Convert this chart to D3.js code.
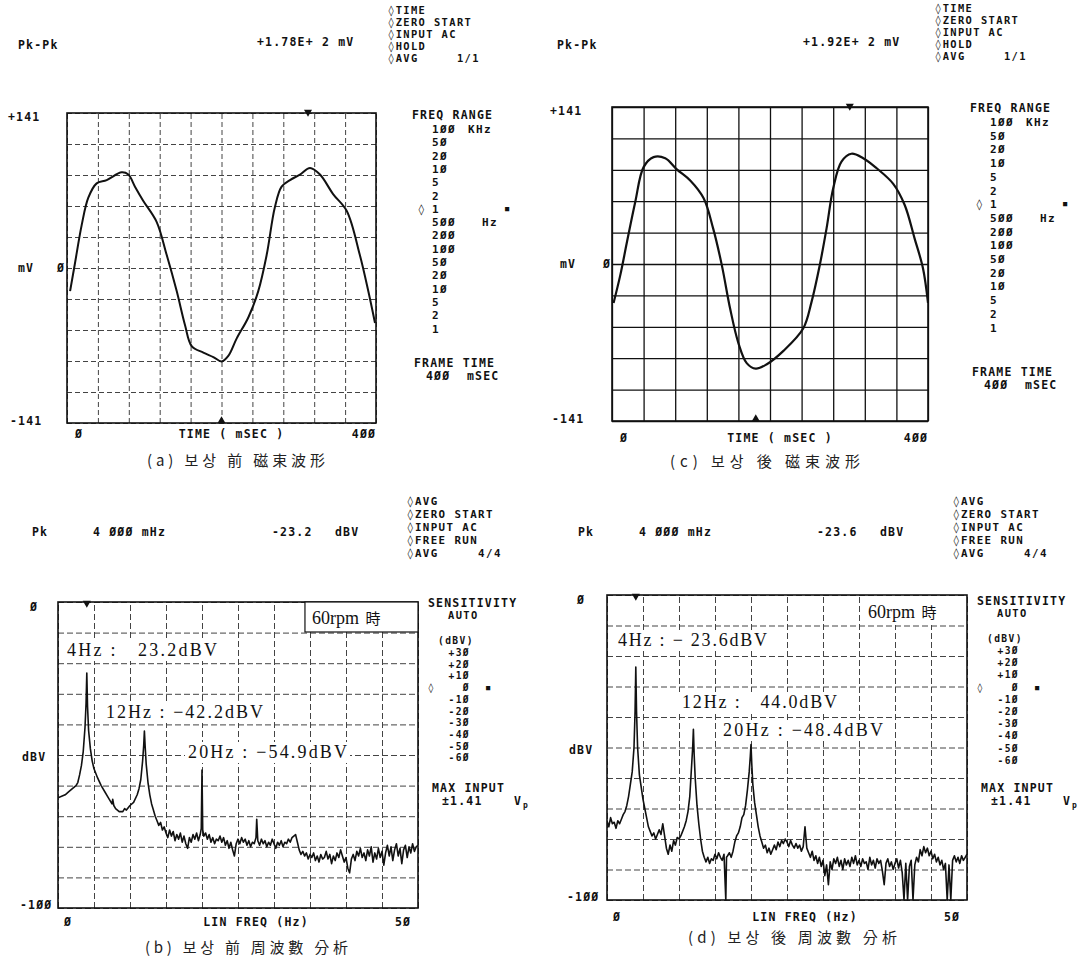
<!DOCTYPE html>
<html>
<head>
<meta charset="utf-8">
<script src="https://cdn.jsdelivr.net/npm/d3@7"></script>
<style>
body { margin: 0; background: #fff; }
svg text { white-space: pre; }
.inst { font-family: "DejaVu Sans Mono", monospace; font-weight: bold; font-size: 11.5px; letter-spacing: 1.2px; fill: #111; }
.lst { font-family: "DejaVu Sans Mono", monospace; font-weight: bold; font-size: 9.6px; letter-spacing: 1.4px; fill: #111; }
.cap { font-family: "Noto Sans CJK KR", sans-serif; font-size: 15px; fill: #222; }
.ann { font-family: "Liberation Serif", serif; font-size: 18px; fill: #111; }
.cjk { font-family: "Noto Sans CJK JP", sans-serif; font-size: 15px; }
</style>
</head>
<body>
<svg width="1082" height="963"></svg>
<script>
// flux waveform before compensation (ms, mV)
const waveA = [[4,-21],[10,3],[19,39],[27.6,64],[38.4,77],[51.4,80],[70.8,87],[79.4,85],[88,74],[98.8,61],[116,42],
  [129,12],[142,-21],[152.8,-52],[161.4,-71],[176.5,-77],[189.4,-81],[200.2,-85],[208.8,-80],[219.7,-64],[234.7,-45],
  [247.6,-21],[258.5,12],[269,55],[277.8,74],[288.7,80],[301.6,85],[314.6,91],[327.5,85],[344.7,67],[362,52],[379,12],
  [390,-21],[398.7,-50]];
// flux waveform after compensation (ms, mV)
const waveC = [[2,-35],[10.5,-10],[19,20],[29.5,56],[40,87],[52.6,96],[67.4,95],[82,85],[99,75],[116,59],[128,32],
  [139,-1],[149.5,-40],[160,-71],[170.5,-89],[182,-94],[196,-90],[217,-78],[242,-58],[252.6,-34],[263,-1],[271.6,32],
  [280,68],[290.5,92],[303,99],[318,95],[335,86],[356,72],[370.5,53],[383,23],[393.7,-4],[400,-35]];

// spectrum before compensation (Hz, dBV)
const specB = [[0,-64],[0.5,-63.5],[1,-63],[1.5,-62],[2,-61],[2.5,-60],[2.75,-59],[3,-56.5],[3.25,-53.5],[3.5,-49],
  [3.75,-41],[3.9,-33],[4,-23.2],[4.1,-34],[4.25,-42],[4.5,-48],[4.75,-52],[5,-54.5],[5.5,-57.5],[6,-60],[6.5,-62],
  [7,-64],[7.25,-65],[7.5,-66],[7.6,-64.5],[7.75,-66.5],[8,-67.5],[8.5,-68.5],[9,-68.5],[9.25,-67.5],[9.5,-68],
  [10,-66.5],[10.5,-65.5],[11,-63],[11.25,-61],[11.5,-58],[11.75,-52],[11.9,-47],[12,-42.2],[12.1,-47],[12.25,-53],
  [12.5,-59],[12.75,-63],[13,-66],[13.25,-68],[13.5,-70],[13.75,-71.5],[14,-73],[14.25,-72],[14.5,-74.5],[14.75,-73.5],
  [15,-75.5],[15.25,-77],[15.5,-74.5],[15.75,-76.5],[16,-75],[16.25,-78],[16.5,-76],[16.75,-77.5],[17,-75.5],
  [17.25,-78.5],[17.5,-76.5],[17.75,-79],[18,-80.5],[18.25,-77],[18.5,-78.5],[18.75,-76],[19,-77.5],[19.25,-75.5],
  [19.5,-78],[19.75,-76],[19.9,-74],[20,-54.9],[20.1,-74.5],[20.25,-76.5],[20.5,-75.5],[20.75,-77.5],[21,-76],
  [21.25,-78.5],[21.5,-77],[21.75,-79],[22,-77.5],[22.25,-78],[22.5,-76.5],[22.75,-78.5],[23,-77],[23.25,-79.5],
  [23.5,-78],[23.75,-80.5],[24,-78.5],[24.25,-81],[24.5,-83],[24.75,-79],[25,-77.5],[25.25,-79],[25.5,-77],
  [25.75,-78.5],[26,-77.5],[26.25,-79.5],[26.5,-78],[26.75,-80],[27,-78.5],[27.25,-79],[27.5,-77],[27.6,-71],
  [27.75,-78],[28,-79.5],[28.25,-77.5],[28.5,-79],[28.75,-78],[29,-80],[29.25,-78.5],[29.5,-79.5],[29.75,-77.5],
  [30,-79],[30.25,-80.5],[30.5,-78.5],[30.75,-79.5],[31,-78],[31.25,-80],[31.5,-78.5],[31.75,-79],[32,-77.5],
  [32.25,-78.5],[32.5,-77],[32.75,-76.5],[33,-76],[33.25,-78.5],[33.5,-81],[33.75,-82.5],[34,-81.5],[34.25,-83],
  [34.5,-82],[34.75,-84],[35,-82.5],[35.25,-83.5],[35.5,-82],[35.75,-84.5],[36,-83],[36.25,-85],[36.5,-82.5],
  [36.75,-84],[37,-83.5],[37.25,-81.5],[37.5,-84],[37.75,-82.5],[38,-85.5],[38.25,-83],[38.5,-84.5],[38.75,-82],
  [39,-83.5],[39.25,-81],[39.5,-83],[39.75,-85],[40,-83.5],[40.25,-87],[40.5,-88.5],[40.75,-84],[41,-82.5],
  [41.25,-84.5],[41.5,-81.5],[41.75,-83],[42,-80.5],[42.25,-83.5],[42.5,-82],[42.75,-84.5],[43,-81],[43.25,-83],
  [43.5,-80],[43.75,-85],[44,-82],[44.25,-84],[44.5,-80.5],[44.75,-83.5],[45,-81.5],[45.25,-86],[45.5,-82],
  [45.75,-79.5],[46,-83],[46.25,-80],[46.5,-84.5],[46.75,-81],[47,-79],[47.25,-83],[47.5,-80.5],[47.75,-85.5],
  [48,-81],[48.25,-79.5],[48.5,-83.5],[48.75,-80],[49,-82],[49.25,-79],[49.5,-81.5],[49.75,-80],[50,-79.5]];

// spectrum after compensation (Hz, dBV)
const specD = [[0,-74],[0.25,-76],[0.5,-73],[0.75,-75],[1,-74.5],[1.25,-76.5],[1.5,-74],[1.75,-75],[2,-73.5],
  [2.25,-72],[2.5,-71],[2.75,-69],[3,-66],[3.25,-62],[3.5,-58],[3.75,-50],[3.9,-38],[4,-23.6],[4.1,-38],[4.25,-50],
  [4.5,-59],[4.75,-63],[5,-67],[5.25,-70],[5.5,-73],[5.75,-76],[6,-77.5],[6.25,-79],[6.5,-78],[6.75,-80],[7,-78.5],
  [7.25,-77],[7.5,-78.5],[7.75,-75],[8,-79],[8.25,-83],[8.5,-85],[8.75,-82],[9,-84],[9.25,-80.5],[9.5,-82],
  [9.75,-79.5],[10,-80],[10.25,-79],[10.5,-77.5],[10.75,-76],[11,-74],[11.25,-71],[11.5,-66],[11.75,-56],[11.9,-50],
  [12,-44],[12.1,-52],[12.25,-60],[12.5,-69],[12.75,-75],[13,-80],[13.25,-84],[13.5,-86],[13.75,-87.5],[14,-86],
  [14.25,-88],[14.5,-86.5],[14.75,-87],[15,-85],[15.25,-86.5],[15.5,-84.5],[15.75,-86],[16,-87],[16.25,-85],
  [16.5,-100],[16.6,-86],[16.75,-85.5],[17,-84.5],[17.25,-86],[17.5,-84],[17.75,-81],[18,-79],[18.25,-78],
  [18.5,-76],[18.75,-73],[19,-72],[19.25,-69],[19.5,-64],[19.75,-58],[19.9,-53],[20,-49],[20.1,-55],[20.25,-62],
  [20.5,-68],[20.75,-72],[21,-76],[21.25,-79],[21.5,-81],[21.75,-83],[22,-82],[22.25,-84.5],[22.5,-83],[22.75,-85],
  [23,-83.5],[23.25,-82],[23.5,-83.5],[23.75,-81],[24,-82.5],[24.25,-80.5],[24.5,-81.5],[24.75,-80],[25,-81],
  [25.25,-82.5],[25.5,-80.5],[25.75,-82],[26,-83],[26.25,-81.5],[26.5,-83],[26.75,-82],[27,-84],[27.25,-82.5],
  [27.5,-76],[27.75,-83],[28,-84.5],[28.25,-86],[28.5,-84],[28.75,-87],[29,-85.5],[29.25,-88],[29.5,-86],
  [29.75,-89],[30,-87],[30.25,-92],[30.5,-88.5],[30.75,-95],[31,-87.5],[31.25,-90],[31.5,-86.5],[31.75,-88],
  [32,-86],[32.25,-89],[32.5,-87],[32.75,-90],[33,-86.5],[33.25,-88.5],[33.5,-87],[33.75,-89],[34,-86],[34.25,-88],
  [34.5,-85.5],[34.75,-88.5],[35,-87],[35.25,-89],[35.5,-86.5],[35.75,-88],[36,-87.5],[36.25,-90],[36.5,-86],
  [36.75,-88.5],[37,-87],[37.25,-89.5],[37.5,-86.5],[37.75,-88],[38,-87],[38.25,-90.5],[38.5,-95],[38.75,-88],
  [39,-86.5],[39.25,-89],[39.5,-87.5],[39.75,-90],[40,-88],[40.25,-86.5],[40.5,-89.5],[40.75,-87],[41,-91],
  [41.25,-100],[41.5,-88],[41.75,-100],[42,-89],[42.25,-87],[42.5,-100],[42.75,-88.5],[43,-86],[43.25,-87.5],
  [43.5,-83.5],[43.75,-85.5],[44,-82.5],[44.25,-84.5],[44.5,-83],[44.75,-85.5],[45,-84],[45.25,-86.5],[45.5,-85],
  [45.75,-87.5],[46,-86],[46.25,-88.5],[46.5,-87],[46.75,-90],[47,-88],[47.25,-100],[47.5,-88.5],[47.75,-100],
  [48,-87],[48.25,-85.5],[48.5,-87.5],[48.75,-86],[49,-88],[49.25,-85.5],[49.5,-87],[49.75,-86],[50,-85]];

const timeTicks = [0,40,80,120,160,200,240,280,320,360,400];
const mvTicks = [-141,-112.8,-84.6,-56.4,-28.2,0,28.2,56.4,84.6,112.8,141];
const freqTicks = [0,5,10,15,20,25,30,35,40,45,50];
const dbTicks = [-100,-90,-80,-70,-60,-50,-40,-30,-20,-10,0];

const freqRange = ["1ØØ","5Ø","2Ø","1Ø","5","2","1","5ØØ","2ØØ","1ØØ","5Ø","2Ø","1Ø","5","2","1"];
const sensRange = ["+3Ø","+2Ø","+1Ø","Ø","-1Ø","-2Ø","-3Ø","-4Ø","-5Ø","-6Ø"];
const statusTime = ["◊TIME","◊ZERO START","◊INPUT AC","◊HOLD","◊AVG     1/1"];
const statusFreq = ["◊AVG","◊ZERO START","◊INPUT AC","◊FREE RUN","◊AVG     4/4"];

const svg = d3.select('svg');
svg.append('rect').attr('width', 1082).attr('height', 963).attr('fill', '#fff');

function txt(x, y, s, cls, anchor) {
  return svg.append('text')
    .attr('x', x).attr('y', y)
    .attr('class', cls || 'inst')
    .attr('text-anchor', anchor || 'start')
    .text(s);
}

function frame(p) {
  const x = d3.scaleLinear().domain(p.xDomain).range([p.left, p.right]);
  const y = d3.scaleLinear().domain(p.yDomain).range([p.bottom, p.top]);
  const g = svg.append('g');
  const w = p.right - p.left, h = p.bottom - p.top;
  g.append('g').attr('class', 'grid')
    .attr('transform', `translate(0,${p.bottom})`)
    .call(d3.axisBottom(x).tickValues(p.xTicks).tickSize(-h).tickFormat(''));
  g.append('g').attr('class', 'grid')
    .attr('transform', `translate(${p.left},0)`)
    .call(d3.axisLeft(y).tickValues(p.yTicks).tickSize(-w).tickFormat(''));
  g.selectAll('.domain').remove();
  g.selectAll('.grid line')
    .attr('stroke', p.grid)
    .attr('stroke-width', p.gridW)
    .attr('stroke-dasharray', p.dash);
  g.append('rect')
    .attr('x', p.left).attr('y', p.top).attr('width', w).attr('height', h)
    .attr('fill', 'none').attr('stroke', '#111').attr('stroke-width', 1.6);
  const id = 'clip' + p.id;
  svg.append('clipPath').attr('id', id)
    .append('rect').attr('x', p.left).attr('y', p.top - 1).attr('width', w).attr('height', h + 2);
  return {g, x, y, id};
}

function marker(x, y, down) {
  svg.append('path')
    .attr('d', d3.symbol(d3.symbolTriangle, 28)())
    .attr('transform', `translate(${x},${y}) rotate(${down ? 180 : 0})`)
    .attr('fill', '#111');
}

function labelBox(x, y, s, len, cls) {
  svg.append('rect').attr('x', x - 3).attr('y', y - 16).attr('width', len + 6).attr('height', 21).attr('fill', '#fff');
  txt(x, y, s, cls || 'ann').attr('textLength', len).attr('lengthAdjust', 'spacing');
}

// ---------- (a) waveform before ----------
const pa = frame({id: 'a', left: 67, right: 376, top: 113, bottom: 423, xDomain: [0, 400], yDomain: [-141, 141],
  xTicks: timeTicks, yTicks: mvTicks, grid: '#444', gridW: 1, dash: '5,3'});
pa.g.append('path').datum(waveA)
  .attr('clip-path', `url(#${pa.id})`)
  .attr('d', d3.line().x(d => pa.x(d[0])).y(d => pa.y(d[1])).curve(d3.curveCatmullRom))
  .attr('fill', 'none').attr('stroke', '#111').attr('stroke-width', 2);
marker(pa.x(312), pa.y(141) - 1, true);
marker(pa.x(200), pa.y(-141) - 2, false);

// ---------- (c) waveform after ----------
const pc = frame({id: 'c', left: 612, right: 928, top: 107, bottom: 421, xDomain: [0, 400], yDomain: [-141, 141],
  xTicks: timeTicks, yTicks: mvTicks, grid: '#111', gridW: 1.3, dash: null});
pc.g.append('path').datum(waveC)
  .attr('clip-path', `url(#${pc.id})`)
  .attr('d', d3.line().x(d => pc.x(d[0])).y(d => pc.y(d[1])).curve(d3.curveCatmullRom))
  .attr('fill', 'none').attr('stroke', '#111').attr('stroke-width', 2.2);
marker(pc.x(301), pc.y(141) - 1, true);
marker(pc.x(182), pc.y(-141) - 2, false);

// ---------- (b) spectrum before ----------
const pb = frame({id: 'b', left: 58, right: 418, top: 602, bottom: 908, xDomain: [0, 50], yDomain: [-100, 0],
  xTicks: freqTicks, yTicks: dbTicks, grid: '#444', gridW: 1, dash: '6,3'});
// ---------- (d) spectrum after ----------
const pd = frame({id: 'd', left: 607, right: 967, top: 595, bottom: 900, xDomain: [0, 50], yDomain: [-100, 0],
  xTicks: freqTicks, yTicks: dbTicks, grid: '#444', gridW: 1, dash: '6,3'});

// annotation labels (pasted on white strips)
svg.append('rect').attr('x', pb.x(34.3)).attr('y', pb.y(0)).attr('width', pb.x(50) - pb.x(34.3)).attr('height', 30)
  .attr('fill', '#fff').attr('stroke', '#111').attr('stroke-width', 1.2);
txt(312, 624, '60rpm ', 'ann').append('tspan').attr('class', 'cjk').attr('dx', 2).text('時');
labelBox(67, 656, '4Hz :   23.2dBV', 150);
labelBox(106, 718, '12Hz : −42.2dBV', 157);
labelBox(188, 758, '20Hz : −54.9dBV', 159);

svg.append('rect').attr('x', 862).attr('y', 597).attr('width', 104).attr('height', 28).attr('fill', '#fff');
txt(868, 618, '60rpm ', 'ann').append('tspan').attr('class', 'cjk').attr('dx', 2).text('時');
labelBox(618, 646, '4Hz : − 23.6dBV', 149);
labelBox(682, 708, '12Hz :   44.0dBV', 155);
labelBox(723, 736, '20Hz : −48.4dBV', 160);

[[pb, specB], [pd, specD]].forEach(([p, data]) => {
  svg.append('path').datum(data)
    .attr('clip-path', `url(#${p.id})`)
    .attr('d', d3.line().x(d => p.x(d[0])).y(d => p.y(d[1])))
    .attr('fill', 'none').attr('stroke', '#111').attr('stroke-width', 1.6).attr('stroke-linejoin', 'round');
});
marker(pb.x(4), pb.y(0) + 1, true);
marker(pd.x(4), pd.y(0) + 1, true);

// ---------- instrument texts: time panels ----------
function timeTexts(o) {
  txt(o.pkX, 49, 'Pk-Pk');
  txt(o.valX, 46, o.val);
  statusTime.forEach((s, i) => txt(o.stX, o.stY + i * 12, s, 'lst').style('font-size', '10.4px'));
  txt(o.lblX, o.p.y(141) + 8, '+141');
  txt(o.lblX + 10, o.p.y(0) + 4, 'mV');
  txt(o.zeroX, o.p.y(0) + 4, 'Ø');
  txt(o.lblX + 2, o.p.y(-141) + 2, '-141');
  txt(o.p.x(0) + 12, o.axY, 'Ø', 'inst', 'middle');
  txt(o.p.x(200) + 10, o.axY, 'TIME ( mSEC )', 'inst', 'middle');
  txt(o.p.x(400) - 12, o.axY, '4ØØ', 'inst', 'middle');
  txt(o.frX, o.frY, 'FREQ RANGE');
  freqRange.forEach((s, i) => txt(o.frX + 20, o.frY + 14 + i * o.frStep, s, 'lst').style('font-size', '11px'));
  txt(o.frX + 6, o.frY + 14 + 6 * o.frStep, '◊', 'lst').style('font-size', '11px');
  txt(o.frX + 56, o.frY + 14, 'KHz', 'lst').style('font-size', '11px');
  txt(o.frX + 70, o.frY + 14 + 7 * o.frStep, 'Hz', 'lst').style('font-size', '11px');
  txt(o.frX + 93, o.frY + 12 + 6 * o.frStep, '■').style('font-size', '7px');
  txt(o.frX + 2, o.ftY, 'FRAME TIME');
  txt(o.frX + 14, o.ftY + 13, '4ØØ');
  txt(o.frX + 55, o.ftY + 13, 'mSEC');
  txt(o.capX, o.capY, o.cap, 'cap').attr('textLength', o.capLen).attr('lengthAdjust', 'spacing');
}
timeTexts({p: pa, pkX: 18, valX: 257, val: '+1.78E+ 2 mV', stX: 388, stY: 14, lblX: 8, zeroX: 57, axY: 438,
  frX: 412, frY: 119, frStep: 13.3, ftY: 367, capX: 147, capY: 466, capLen: 178, cap: '(a) 보상 前 磁束波形'});
timeTexts({p: pc, pkX: 557, valX: 803, val: '+1.92E+ 2 mV', stX: 935, stY: 12, lblX: 550, zeroX: 603, axY: 442,
  frX: 970, frY: 112, frStep: 13.7, ftY: 376, capX: 670, capY: 467, capLen: 190, cap: '(c) 보상 後 磁束波形'});

// ---------- instrument texts: spectrum panels ----------
function freqTexts(o) {
  txt(o.pkX, 536, 'Pk');
  txt(o.pkX + 61, 536, '4 ØØØ mHz');
  txt(o.dbX, 536, o.db);
  txt(o.dbX + 63, 536, 'dBV');
  statusFreq.forEach((s, i) => txt(o.stX, 505 + i * 13, s, 'lst').style('font-size', '10.8px'));
  txt(o.lblX + 8, o.p.y(0) + 9, 'Ø');
  txt(o.lblX, o.p.y(-50) + 6, 'dBV');
  txt(o.lblX - 2, o.p.y(-100) + 1, '-1ØØ');
  txt(o.p.x(0) + 10, o.axY, 'Ø', 'inst', 'middle');
  txt(o.p.x(27.5), o.axY, 'LIN FREQ (Hz)', 'inst', 'middle');
  txt(o.p.x(50) - 15, o.axY, '5Ø', 'inst', 'middle');
  txt(o.sX, o.sY, 'SENSITIVITY');
  txt(o.sX + 20, o.sY + 12, 'AUTO', 'lst').style('font-size', '10.4px');
  txt(o.sX + 10, o.sY + 37, '(dBV)', 'lst');
  sensRange.forEach((s, i) => txt(o.sX + 42, o.sY + 49 + i * o.sStep, s, 'lst', 'end'));
  txt(o.sX, o.sY + 49 + 3 * o.sStep, '◊', 'lst');
  txt(o.sX + 58, o.sY + 48 + 3 * o.sStep, '■').style('font-size', '7px');
  txt(o.sX + 4, o.mxY, 'MAX INPUT');
  txt(o.sX + 14, o.mxY + 13, '±1.41');
  txt(o.sX + 86, o.mxY + 13, 'V');
  txt(o.sX + 95, o.mxY + 16, 'p').style('font-size', '8px');
  txt(o.capX, o.capY, o.cap, 'cap').attr('textLength', o.capLen).attr('lengthAdjust', 'spacing');
}
freqTexts({p: pb, pkX: 32, dbX: 272, db: '-23.2', stX: 407, lblX: 22, axY: 926, sX: 428, sY: 607, sStep: 11.7,
  mxY: 792, capX: 145, capY: 953, capLen: 203, cap: '(b) 보상 前 周波數 分析'});
freqTexts({p: pd, pkX: 578, dbX: 817, db: '-23.6', stX: 953, lblX: 569, axY: 921, sX: 977, sY: 605, sStep: 12.2,
  mxY: 792, capX: 688, capY: 943, capLen: 209, cap: '(d) 보상 後 周波數 分析'});
</script>
</body>
</html>
